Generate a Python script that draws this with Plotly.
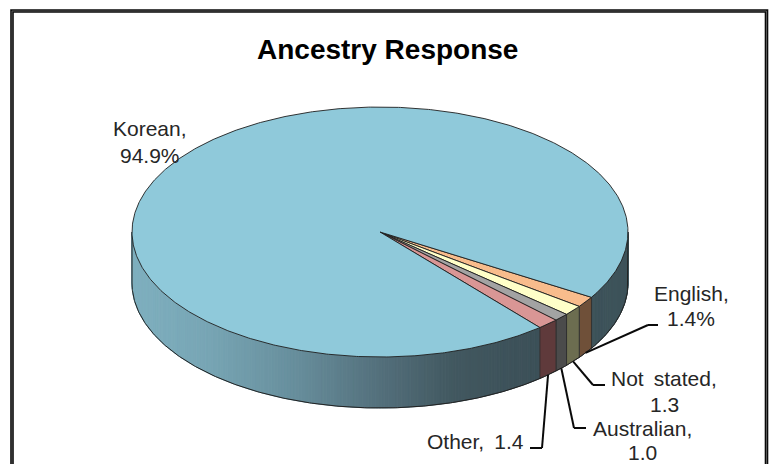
import numpy as np
import plotly.graph_objects as go

# Ancestry shares, in drawing order (clockwise from the lower right)
categories = ["English", "Not stated", "Australian", "Other", "Korean"]
shares = [1.4, 1.3, 1.0, 1.4, 94.9]
top_colors = ["#F8BC8C", "#FFFFC8", "#A3A3A3", "#D99695", "#8FC9DA"]
side_colors = ["#6F5039", "#6C6D50", "#4B4B4B", "#5F3A3B", None]
title_text = "Ancestry Response"
label_lines = {
    "Korean": ["Korean,", "94.9%"],
    "English": ["English,", "1.4%"],
    "Not stated": ["Not\u2009 stated,", "1.3"],
    "Australian": ["Australian,", "1.0"],
    "Other": ["Other,\u2009 1.4"],
}

W, H = 771, 464
CX, CY = 380.0, 232.0   # pie centre on the page
RX = 248.0              # horizontal radius: one axis unit
TILT = 0.504            # ellipse squash of the tilted disc
DEPTH = 51.0 / RX       # thickness of the disc in axis units
START = 31.5            # degrees below horizontal where the first slice begins


def px_x(p):
    return p / W


def px_y(p):
    return 1 - p / H


def rim(deg, drop=0.0):
    t = np.radians(deg)
    return np.cos(t), -TILT * np.sin(t) - drop


def side_shade(x_unit):
    # Horizontal lighting across the wall of the disc, light on the left
    stops = [-1.0, -0.7, -0.35, 0.0, 0.3, 0.65, 1.0]
    reds = [127, 120, 104, 84, 66, 60, 62]
    greens = [176, 166, 143, 112, 88, 80, 84]
    blues = [191, 181, 157, 124, 96, 88, 91]
    return "rgb(%d,%d,%d)" % (
        np.interp(x_unit, stops, reds),
        np.interp(x_unit, stops, greens),
        np.interp(x_unit, stops, blues),
    )


def polygon(xs, ys, fill, line=None, width=1.0):
    return go.Scatter(
        x=xs, y=ys, mode="lines", fill="toself", fillcolor=fill,
        line=dict(color=line or fill, width=width),
        hoverinfo="skip", showlegend=False,
    )


def wall(a0, a1):
    th = np.linspace(a0, a1, max(2, int(abs(a1 - a0) * 2) + 1))
    up = rim(th)
    down = rim(th[::-1], DEPTH)
    return np.r_[up[0], down[0], up[0][0]], np.r_[up[1], down[1], up[1][0]]


edges = START + np.r_[0, np.cumsum(shares)] * 3.6
fig = go.Figure()

# Wall of the large slice: split into narrow strips to carry the gradient
korean_from, korean_to = edges[4], edges[5]
STRIP = 0.75
for lo, hi in [(korean_from, 180.0), (0.0, START)]:
    for a in np.arange(lo, hi, STRIP):
        b = min(a + STRIP, hi)
        xs, ys = wall(a, b)
        fig.add_trace(polygon(xs, ys, side_shade(np.cos(np.radians((a + b) / 2)))))

# Walls of the small slices
for i in range(4):
    xs, ys = wall(edges[i], edges[i + 1])
    fig.add_trace(polygon(xs, ys, side_colors[i], "#2A2A2A", 0.8))

# Outline of the wall
th = np.linspace(0, 180, 361)
bx, by = rim(th, DEPTH)
tx0, ty0 = rim(0.0)
tx1, ty1 = rim(180.0)
fig.add_trace(go.Scatter(
    x=np.r_[tx0, bx, tx1], y=np.r_[ty0, by, ty1], mode="lines",
    line=dict(color="#222222", width=1), hoverinfo="skip", showlegend=False,
))

# Top faces of all slices
for i in range(5):
    th = np.linspace(edges[i], edges[i + 1], max(2, int((edges[i + 1] - edges[i]) * 2)))
    ex, ey = rim(th)
    fig.add_trace(polygon(np.r_[0, ex, 0], np.r_[0, ey, 0], top_colors[i], "#1E1E1E", 0.9))


def leader(start, elbow, end):
    for a, b in [(start, elbow), (elbow, end)]:
        fig.add_shape(type="line", xref="paper", yref="paper",
                      x0=px_x(a[0]), y0=px_y(a[1]), x1=px_x(b[0]), y1=px_y(b[1]),
                      line=dict(color="#0A0A0A", width=2))


def rim_point(i):
    mid = (edges[i] + edges[i + 1]) / 2
    x, y = rim(mid, DEPTH)
    return CX + RX * x, CY - RX * y


leader(rim_point(0), (648, 325), (658, 325))
leader(rim_point(1), (593, 385), (605, 385))
leader(rim_point(2), (574, 428), (586, 428))
leader(rim_point(3), (542, 448), (530, 448))

annotations = [dict(
    text="<b>%s</b>" % title_text, x=px_x(387), y=px_y(50), xref="paper", yref="paper",
    showarrow=False, xanchor="center", yanchor="middle",
    font=dict(family="Liberation Sans", size=28, color="#000000"),
)]
placements = {
    "Korean": [(149.5, 129), (149.5, 155)],
    "English": [(691, 293), (691, 318)],
    "Not stated": [(664, 378), (664, 404)],
    "Australian": [(642, 428), (642, 452)],
    "Other": [(475, 441)],
}
for name, lines in label_lines.items():
    for text, (x, y) in zip(lines, placements[name]):
        annotations.append(dict(
            text=text, x=px_x(x), y=px_y(y), xref="paper", yref="paper",
            showarrow=False, xanchor="center", yanchor="middle",
            font=dict(family="Liberation Sans", size=21, color="#262626"),
        ))

# Double-ruled frame running off the bottom of the page
fig.add_shape(type="rect", xref="paper", yref="paper",
              x0=px_x(12), y0=px_y(480), x1=px_x(766.5), y1=px_y(11),
              line=dict(color="#0A0A0A", width=3.6))
fig.add_shape(type="rect", xref="paper", yref="paper",
              x0=px_x(12), y0=px_y(480), x1=px_x(766.5), y1=px_y(11),
              line=dict(color="#6A6A6A", width=0.8))

fig.update_layout(
    width=W, height=H, margin=dict(l=0, r=0, t=0, b=0),
    paper_bgcolor="white", plot_bgcolor="white",
    xaxis=dict(range=[-CX / RX, (W - CX) / RX], visible=False, fixedrange=True),
    yaxis=dict(range=[(CY - H) / RX, CY / RX], visible=False, fixedrange=True),
    annotations=annotations,
)
fig.write_html("out.html")
